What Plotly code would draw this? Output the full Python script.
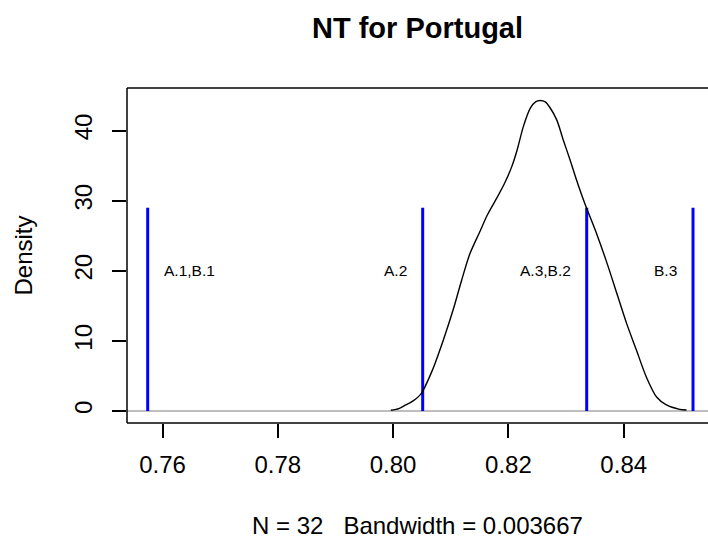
import plotly.graph_objects as go

# Density curve
dens_x = [0.7996, 0.8010, 0.8022, 0.8034, 0.8048, 0.8068, 0.8087, 0.8104, 0.8119, 0.8133,
          0.8150, 0.8163, 0.8180, 0.8194, 0.8206, 0.8215, 0.8226, 0.8238, 0.8247, 0.8255,
          0.8264, 0.8272, 0.8284, 0.8295, 0.8307, 0.8318, 0.8333, 0.8353, 0.8371, 0.8388,
          0.8405, 0.8422, 0.8439, 0.8457, 0.8474, 0.8497, 0.8509]
dens_y = [0.1, 0.35, 0.86, 1.4, 2.4, 5.8, 10.1, 14.4, 18.7, 22.4,
          25.5, 27.9, 30.4, 32.6, 34.9, 37.2, 40.6, 43.2, 44.1, 44.3,
          44.1, 43.3, 41.5, 38.7, 35.8, 33.0, 29.5, 25.3, 21.1, 16.8,
          12.5, 8.7, 4.9, 2.0, 0.86, 0.24, 0.15]

# Reference vertical lines
line_x = [0.75743, 0.80513, 0.83358, 0.85202]
line_top = 29
line_labels = ["A.1,B.1", "A.2", "A.3,B.2", "B.3"]
label_side = ["right", "left", "left", "left"]
label_y = 20

x_ticks = [0.76, 0.78, 0.80, 0.82, 0.84]
x_ticktext = ["0.76", "0.78", "0.80", "0.82", "0.84"]
y_ticks = [0, 10, 20, 30, 40]

title = "NT for Portugal"
sub = "N = 32\u00a0\u00a0\u00a0Bandwidth = 0.003667"

FONT = "Liberation Sans, Arial, sans-serif"

fig = go.Figure()

for xv in line_x:
    fig.add_trace(go.Scatter(x=[xv, xv], y=[0, line_top], mode="lines",
                             line=dict(color="#0000FF", width=3), showlegend=False,
                             hoverinfo="skip"))

fig.add_trace(go.Scatter(x=dens_x, y=dens_y, mode="lines",
                         line=dict(color="black", width=1.4, shape="spline", smoothing=0.8),
                         showlegend=False))

# grey baseline at y=0
fig.add_shape(type="line", xref="paper", yref="y", x0=0, x1=1, y0=0, y1=0,
              line=dict(color="#BEBEBE", width=2), layer="below")

# box (left, top, bottom)
for (x0, y0, x1, y1) in [(0, 0, 0, 1), (0, 1, 1, 1), (0, 0, 1, 0)]:
    fig.add_shape(type="line", xref="paper", yref="paper", x0=x0, y0=y0, x1=x1, y1=y1,
                  line=dict(color="black", width=1.5))

for xv, lab, side in zip(line_x, line_labels, label_side):
    fig.add_annotation(x=xv, y=label_y, text=lab, showarrow=False,
                       xanchor="left" if side == "right" else "right",
                       xshift=14 if side == "right" else -14,
                       font=dict(size=15.5, color="black", family=FONT))

fig.add_annotation(text="<b>" + title + "</b>", xref="paper", yref="paper",
                   x=0.5, y=1, yshift=60, showarrow=False, xanchor="center", yanchor="middle",
                   font=dict(size=29, color="black", family=FONT))
fig.add_annotation(text=sub, xref="paper", yref="paper", x=0.5, y=0, yshift=-102,
                   showarrow=False, xanchor="center", yanchor="middle",
                   font=dict(size=24, color="black", family=FONT))
fig.add_annotation(text="Density", xref="paper", yref="paper", x=0, xshift=-104,
                   y=0.5, textangle=-90, showarrow=False, xanchor="center", yanchor="middle",
                   font=dict(size=24, color="black", family=FONT))

fig.update_layout(
    width=708, height=540,
    margin=dict(l=127, r=0, t=88, b=117),
    paper_bgcolor="white", plot_bgcolor="white",
    font=dict(family=FONT, size=24, color="black"),
    xaxis=dict(range=[0.75384, 0.85462], tickvals=x_ticks, ticktext=x_ticktext,
               ticks="outside", ticklen=14, tickwidth=1.5, tickcolor="black",
               showgrid=False, zeroline=False, showline=False, ticklabelstandoff=6,
               tickfont=dict(size=24, family=FONT)),
    yaxis=dict(range=[-1.71, 46.08], tickvals=y_ticks, ticks="outside", ticklen=14,
               tickwidth=1.5, tickcolor="black", tickangle=-90,
               showgrid=False, zeroline=False, showline=False, ticklabelstandoff=10,
               tickfont=dict(size=24, family=FONT)),
)

fig.write_html("out.html")
